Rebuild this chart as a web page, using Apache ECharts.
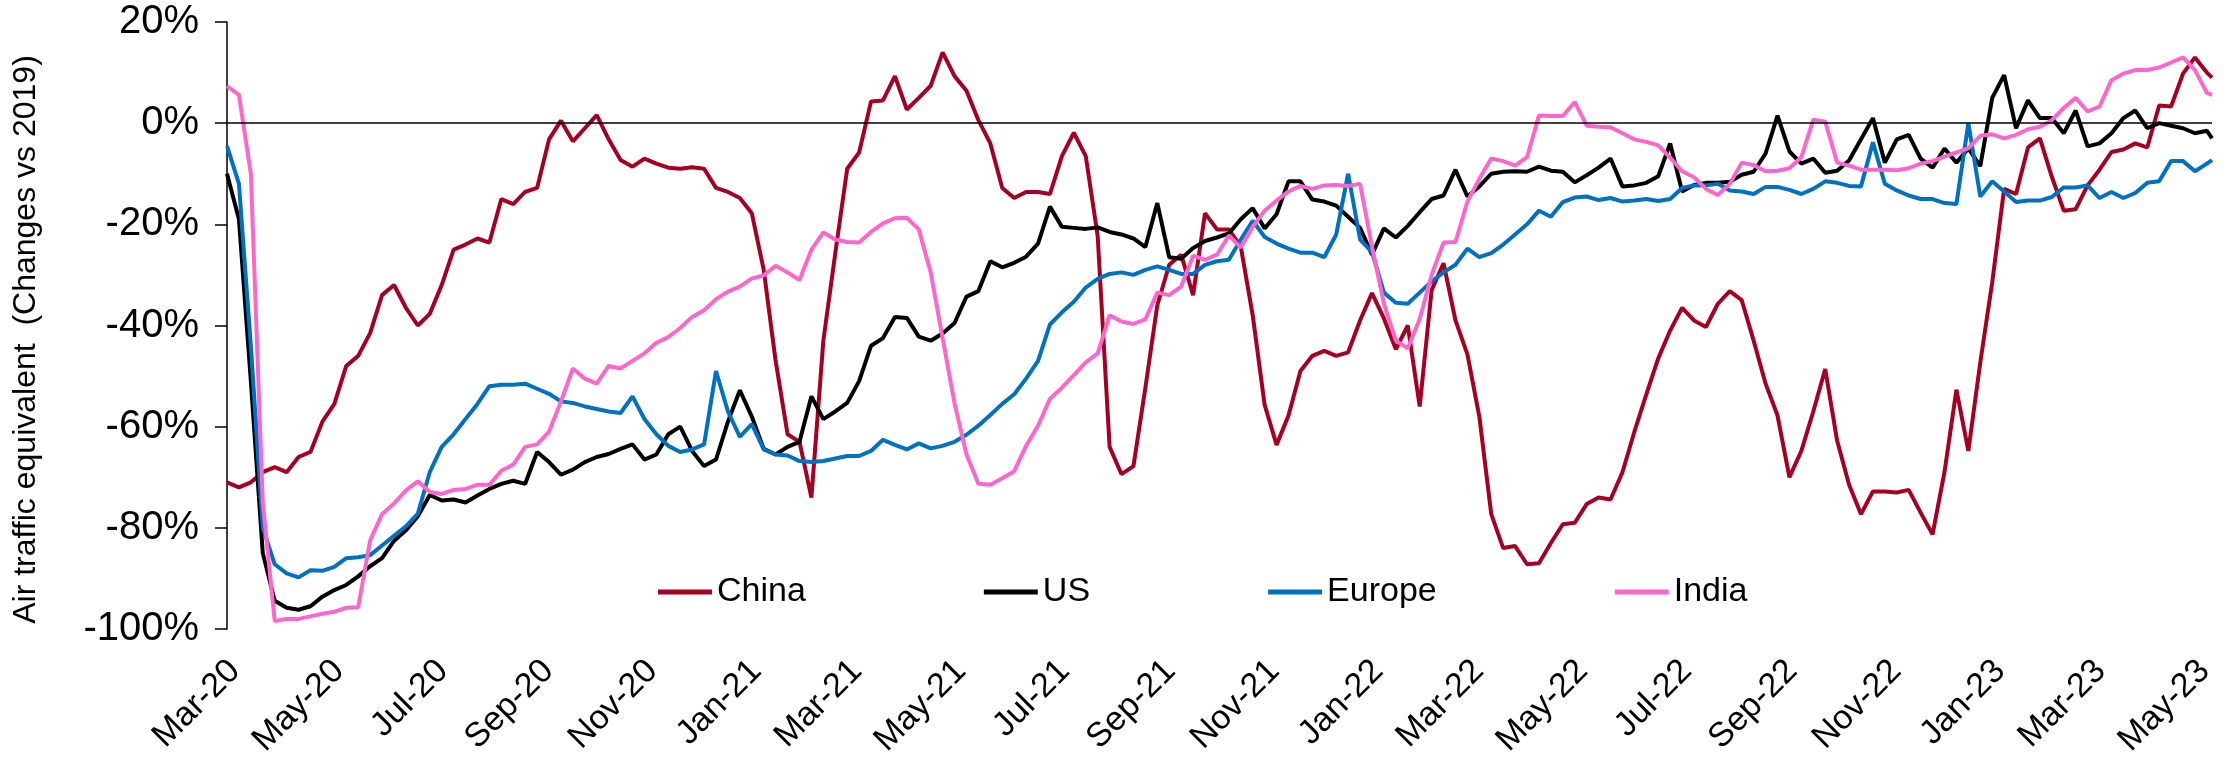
<!DOCTYPE html>
<html>
<head>
<meta charset="utf-8">
<script src="https://cdn.jsdelivr.net/npm/echarts@6/dist/echarts.min.js"></script>
<style>html,body{margin:0;padding:0;background:#fff}#chart{width:2228px;height:766px}</style>
</head>
<body>
<div id="chart"></div>
<script>
// Sampling: days since 1 Mar 2020, weekly, plus the last day of data
const startDate = '2020-03-01';
const sampleDays = [];
for (let i = 0; i <= 166; i++) sampleDays.push(i * 7);
sampleDays.push(1165);
const axisEndDay = 1165;

const tickLabels = ['Mar-20','May-20','Jul-20','Sep-20','Nov-20','Jan-21','Mar-21','May-21','Jul-21','Sep-21','Nov-21','Jan-22','Mar-22','May-22','Jul-22','Sep-22','Nov-22','Jan-23','Mar-23','May-23'];
const tickDates = ['2020-03-01','2020-05-01','2020-07-01','2020-09-01','2020-11-01','2021-01-01','2021-03-01','2021-05-01','2021-07-01','2021-09-01','2021-11-01','2022-01-01','2022-03-01','2022-05-01','2022-07-01','2022-09-01','2022-11-01','2023-01-01','2023-03-01','2023-05-01'];

const seriesNames = ['China', 'US', 'Europe', 'India'];

const china = [-71,-72,-71,-69,-68,-69,-66,-65,-59,-55.5,
-48,-46,-41.5,-34,-32,-36.5,-40,-37.7,-32,-25,
-24,-22.8,-23.6,-15,-16,-13.6,-12.8,-3.2,0.5,-3.6,
-1,1.6,-3.2,-7.3,-8.6,-7,-8,-8.8,-9,-8.7,
-9,-12.8,-13.6,-14.8,-17.8,-29,-47,-61.5,-63,-74,
-43,-25.7,-9,-5.8,4.3,4.5,9.3,2.7,5,7.4,
14,9.3,6.4,0.6,-4,-12.8,-14.8,-13.6,-13.6,-14,
-6.5,-1.9,-6.5,-22.3,-64,-69.4,-67.8,-52.3,-36,-28,
-26,-34,-17.8,-21,-21,-24.4,-38,-55.7,-63.6,-57.8,
-49,-46,-45,-46,-45.3,-39,-33.6,-38.6,-44.7,-40,
-56,-33,-27.7,-39,-45.7,-58,-77.3,-84,-83.6,-87.2,
-87,-83,-79.3,-79,-75.3,-74,-74.4,-69,-61,-53.6,
-46.5,-41,-36.5,-39,-40.3,-35.7,-33.2,-35,-43,-51.5,
-57.8,-70,-64.8,-57,-48.6,-62.8,-71.5,-77.3,-72.8,-72.8,
-73,-72.5,-77,-81.3,-69,-52.7,-64.8,-47.3,-31.5,-13,
-14,-4.8,-3,-10.6,-17.3,-17,-12.3,-9.2,-5.7,-5.2,
-4,-4.8,3.5,3.3,9.8,13,10,9];

const us = [-10,-19,-51,-85,-94.4,-95.8,-96.2,-95.5,-93.6,-92.3,
-91.3,-89.6,-87.6,-86,-82.6,-80.5,-77.7,-73.5,-74.6,-74.4,
-75,-73.6,-72.3,-71.3,-70.7,-71.3,-65,-67,-69.5,-68.5,
-67,-66,-65.4,-64.4,-63.5,-66.5,-65.5,-61.5,-60,-64.8,
-67.8,-66.5,-59,-52.8,-58,-64.4,-65.5,-64,-63,-54,
-58.5,-57,-55.3,-51,-44,-42.5,-38.3,-38.5,-42.2,-43,
-41.6,-39.5,-34.3,-33.2,-27.3,-28.5,-27.6,-26.4,-23.8,-16.5,
-20.5,-20.7,-20.9,-20.6,-21.5,-22,-22.8,-24.5,-15.8,-26.5,
-26.8,-24.7,-23.3,-22.6,-21.8,-19,-16.8,-20.8,-18,-11.5,
-11.5,-15.1,-15.5,-16.3,-18.5,-20.7,-26,-20.8,-22.6,-20.3,
-17.6,-15,-14.3,-9.2,-14.5,-12.5,-10,-9.6,-9.5,-9.6,
-8.6,-9.4,-9.6,-11.7,-10.3,-8.8,-7,-12.5,-12.3,-11.8,
-10.5,-4,-13.5,-12.2,-11.8,-11.8,-11.6,-10.2,-9.6,-6,
1.5,-5.6,-8,-7,-9.8,-9.4,-7.4,-3.2,1,-7.8,
-3.2,-2.3,-7,-8.8,-5,-7.8,-5,-8.5,5,9.5,
-1,4.5,1,1,-2,2.5,-4.6,-4,-2,1,
2.5,-1,0,-0.5,-1,-2,-1.5,-3];

const europe = [-4.5,-12,-44,-80,-87.2,-89,-89.8,-88.4,-88.5,-87.7,
-86,-85.8,-85.4,-83.5,-81.6,-79.7,-77.2,-69,-64,-61.5,
-58.5,-55.5,-52,-51.7,-51.7,-51.5,-52.5,-53.5,-55,-55.3,
-56,-56.5,-57,-57.3,-54,-58.5,-61.5,-63.8,-65,-64.5,
-63.5,-49,-57,-62,-59.5,-64.5,-65.5,-65.7,-66.8,-67,
-66.8,-66.3,-65.8,-65.8,-64.8,-62.6,-63.6,-64.5,-63.3,-64.3,
-63.8,-63,-61.6,-59.8,-57.7,-55.5,-53.6,-50.5,-47,-39.8,
-37.4,-35.3,-32.5,-30.8,-29.8,-29.5,-30,-29,-28.3,-29,
-29.8,-29.8,-28,-27.3,-27,-23,-19.3,-22.5,-23.8,-24.8,
-25.6,-25.6,-26.5,-22,-10,-23,-25.5,-33.5,-35.5,-35.7,
-33.5,-31.3,-29.5,-28,-24.8,-26.5,-25.7,-24,-22,-20,
-17.3,-18.5,-15.6,-14.7,-14.5,-15.2,-14.8,-15.5,-15.3,-15,
-15.4,-15,-12.8,-12.3,-12.3,-12,-13.3,-13.5,-14,-12.6,
-12.6,-13.2,-14,-13,-11.5,-11.8,-12.4,-12.5,-3.8,-12,
-13.3,-14.3,-15,-15,-15.8,-16,0,-14.5,-11.5,-13.5,
-15.6,-15.3,-15.3,-14.6,-12.7,-12.7,-12.3,-14.8,-13.6,-14.8,
-13.8,-11.8,-11.5,-7.5,-7.5,-9.5,-8,-7.3];

const india = [7.3,5.6,-10,-75,-98.4,-98,-98,-97.5,-97,-96.6,
-95.8,-95.7,-82.5,-77.3,-75.2,-72.6,-70.8,-72.9,-73.3,-72.5,
-72.3,-71.5,-71.5,-68.7,-67.5,-64,-63.5,-61,-55,-48.5,
-50.5,-51.5,-48,-48.5,-47,-45.5,-43.4,-42.3,-40.5,-38.3,
-37,-34.8,-33.3,-32.3,-30.7,-30.1,-28.2,-29.5,-31,-25,
-21.6,-23,-23.5,-23.6,-21.5,-19.8,-18.8,-18.7,-21,-29.5,
-42.5,-55.4,-65.5,-71.3,-71.5,-70.2,-68.8,-63.8,-59.8,-54.5,
-52.3,-49.8,-47.3,-45.5,-38,-39.2,-39.7,-38.8,-33.5,-34,
-32.3,-26.2,-27,-26,-22.2,-24.6,-20.5,-17.3,-15.3,-13.5,
-12.4,-13,-12.3,-12.2,-12.4,-12,-24.4,-35.7,-43,-44.5,
-38.7,-30,-23.6,-23.5,-15.5,-11,-7,-7.5,-8.4,-6.7,
1.5,1.4,1.4,4.2,-0.5,-0.7,-0.8,-2,-3.2,-3.7,
-4.4,-6.8,-9.5,-10.7,-13,-14.2,-12,-7.8,-8.3,-9.5,
-9.4,-8.9,-6.7,0.7,0.3,-7.8,-8.4,-9.2,-9.2,-9.2,
-9.3,-8.9,-8,-7.5,-6.6,-5.8,-5,-2.5,-2.2,-3,
-2.3,-1.2,-0.7,0.6,3,5,2.3,3.3,8.5,9.8,
10.5,10.5,11,12,13,10.5,6,5.6];

const seriesColors = ['#A50021', '#000000', '#0070C0', '#FF66CC'];
const seriesValues = [china, us, europe, india];

const FONT = "'Liberation Sans', Arial, sans-serif";
const DAY = 86400000;
function utc(s) { const p = s.split('-').map(Number); return Date.UTC(p[0], p[1] - 1, p[2]); }
const startUtc = utc(startDate);
const tickDays = tickDates.map(s => Math.round((utc(s) - startUtc) / DAY));
function labelFor(v) {
  let best = 0, bd = Infinity;
  tickDays.forEach((t, i) => { const dd = Math.abs(t - v); if (dd < bd) { bd = dd; best = i; } });
  return tickLabels[best];
}

const series = seriesNames.map((name, k) => {
  const s = {
    name: name,
    type: 'line',
    symbol: 'none',
    showSymbol: false,
    smooth: false,
    color: seriesColors[k],
    lineStyle: { color: seriesColors[k], width: 4 },
    emphasis: { disabled: true },
    data: sampleDays.map((d, i) => [d, seriesValues[k][i]])
  };
  if (k === 0) {
    s.markLine = {
      silent: true,
      symbol: ['none', 'none'],
      label: { show: false },
      lineStyle: { color: '#000', width: 1.5, type: 'solid' },
      data: [{ yAxis: 0 }]
    };
  }
  return s;
});

const chart = echarts.init(document.getElementById('chart'), null, { renderer: 'canvas' });
chart.setOption({
  animation: false,
  backgroundColor: '#ffffff',
  textStyle: { fontFamily: FONT },
  grid: { left: 227, right: 16, top: 22, bottom: 137 },
  legend: {
    data: seriesNames,
    left: 653,
    top: 570,
    icon: 'rect',
    itemWidth: 54,
    itemHeight: 5,
    itemGap: 178,
    textStyle: { fontSize: 34, color: '#000', fontFamily: FONT }
  },
  xAxis: {
    type: 'value',
    min: 0,
    max: axisEndDay,
    axisLine: { show: false, onZero: false },
    axisTick: { show: false },
    splitLine: { show: false },
    axisLabel: {
      customValues: tickDays,
      formatter: (v) => labelFor(v),
      rotate: 45,
      align: 'right',
      verticalAlign: 'top',
      lineHeight: 22,
      margin: 29,
      fontSize: 34,
      color: '#000',
      fontFamily: FONT,
      hideOverlap: false,
      showMinLabel: true,
      showMaxLabel: true
    }
  },
  yAxis: {
    type: 'value',
    min: -100,
    max: 20,
    interval: 20,
    name: 'Air traffic equivalent  (Changes vs 2019)',
    nameLocation: 'middle',
    nameRotate: 90,
    nameGap: 185,
    nameTextStyle: { fontSize: 32, color: '#000', fontFamily: FONT, padding: [0, 28, 0, 0] },
    axisLine: { show: true, onZero: false, lineStyle: { color: '#000', width: 1.5 } },
    axisTick: { show: true, length: 12, lineStyle: { color: '#000', width: 1.5 } },
    splitLine: { show: false },
    axisLabel: { formatter: '{value}%', fontSize: 40, color: '#000', margin: 28, fontFamily: FONT }
  },
  series: series
});
</script>
</body>
</html>
